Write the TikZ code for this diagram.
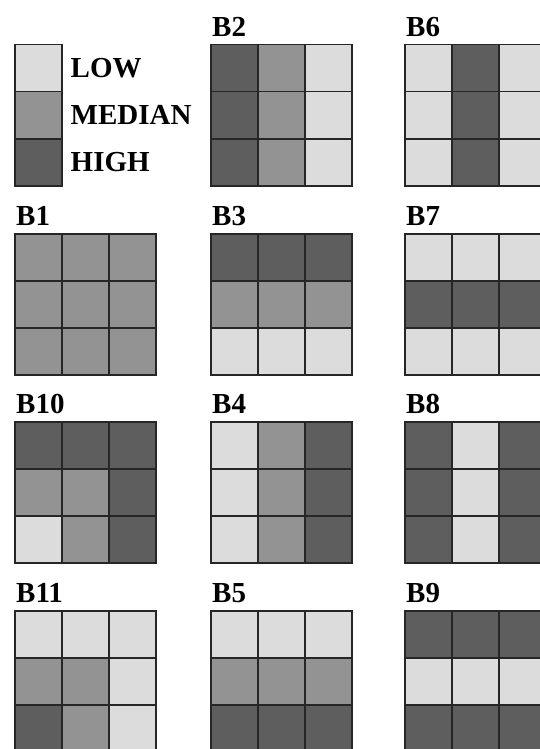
\documentclass[tikz,border=0pt]{standalone}
\usepackage{fontspec}
\setmainfont{Liberation Serif}
\usetikzlibrary{positioning}
\definecolor{cellL}{HTML}{DCDCDC}
\definecolor{cellM}{HTML}{939393}
\definecolor{cellH}{HTML}{5E5E5E}
\tikzset{
  cell/.style = {draw=black!85, line width=1.5pt, minimum size=47pt, inner sep=0pt,
                 anchor=north west},
  tag/.style  = {font=\bfseries\fontsize{29}{29}\selectfont, inner sep=0pt},
  key/.style  = {font=\bfseries\fontsize{29}{29}\selectfont, inner sep=0pt, anchor=west},
}
% one 3x3 block: name, x, y (top left), cell levels row by row
\newcommand{\blockgrid}[4]{%
  \foreach \c [count=\i from 0] in {#4} {
    \pgfmathtruncatemacro{\col}{mod(\i,3)}
    \pgfmathtruncatemacro{\row}{div(\i,3)}
    \node[cell, fill=cell\c] (#1-\row-\col) at (#2+47*\col, #3+47*\row) {};
  }
  \node[tag, above right=7.5pt and 2pt of #1-0-0.north west] (#1-tag) {#1};
}

\begin{document}
\begin{tikzpicture}[x=1pt, y=-1pt]
  \useasboundingbox (0,0) rectangle (539,749);
  % legend
  \node[cell, fill=cellL] (keyL) at (14,44) {};
  \node[cell, fill=cellM] (keyM) at (14,91) {};
  \node[cell, fill=cellH] (keyH) at (14,138) {};
  \node[key, right=8pt of keyL] {LOW};
  \node[key, right=8pt of keyM] {MEDIAN};
  \node[key, right=8pt of keyH] {HIGH};
  % blocks
  \blockgrid{B2}{210}{44}{H,M,L,H,M,L,H,M,L}
  \blockgrid{B6}{404}{44}{L,H,L,L,H,L,L,H,L}
  \blockgrid{B1}{14}{233}{M,M,M,M,M,M,M,M,M}
  \blockgrid{B3}{210}{233}{H,H,H,M,M,M,L,L,L}
  \blockgrid{B7}{404}{233}{L,L,L,H,H,H,L,L,L}
  \blockgrid{B10}{14}{421}{H,H,H,M,M,H,L,M,H}
  \blockgrid{B4}{210}{421}{L,M,H,L,M,H,L,M,H}
  \blockgrid{B8}{404}{421}{H,L,H,H,L,H,H,L,H}
  \blockgrid{B11}{14}{610}{L,L,L,M,M,L,H,M,L}
  \blockgrid{B5}{210}{610}{L,L,L,M,M,M,H,H,H}
  \blockgrid{B9}{404}{610}{H,H,H,L,L,L,H,H,H}
\end{tikzpicture}
\end{document}
